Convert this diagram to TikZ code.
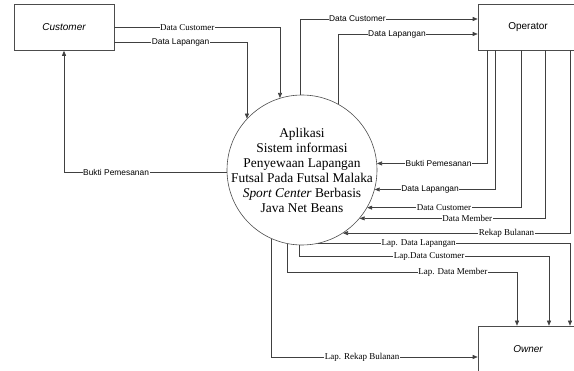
\documentclass[tikz,border=0pt]{standalone}
\usepackage{fontspec}
\setmainfont{Liberation Serif}
\setsansfont{Liberation Sans}
\usetikzlibrary{arrows.meta}
\begin{document}
\begin{tikzpicture}[x=1pt,y=-1pt,
    ent/.style={draw=black!70,line width=0.6pt,minimum width=100pt,minimum height=46pt,font=\sffamily\fontsize{10}{12}\selectfont},
    proc/.style={draw=black!70,line width=0.6pt,circle,minimum size=150pt,inner sep=0pt},
    proctext/.style={align=center,inner sep=0pt,font=\fontsize{13.4}{15}\selectfont},
    flow/.style={draw=black!75,line width=0.6pt,-{Triangle[length=5pt,width=4pt]}},
    lbs/.style={fill=white,inner sep=0.5pt,font=\sffamily\fontsize{8.4}{10}\selectfont},
    lbr/.style={fill=white,inner sep=0.5pt,font=\fontsize{9}{10}\selectfont}]
        \useasboundingbox (0,0) rectangle (574,371);
        \node[ent] (cust) at (64,27.5) {\itshape Customer};
        \node[ent] (opr) at (528,27) {Operator};
        \node[ent] (own) at (528,349) {\itshape Owner};
        \node[proc,label={[proctext]center:{Aplikasi\\Sistem informasi\\Penyewaan Lapangan\\Futsal Pada Futsal Malaka\\\textit{Sport Center} Berbasis\\Java Net Beans}}] (sys) at (302,170) {};
        % customer
        \draw[flow] (cust.east) -| node[lbr,pos=.22]{Data Customer} (sys.107);
        \draw[flow] ([yshift=-15pt]cust.east) -| node[lbs,pos=.25]{Data Lapangan} (sys.137);
        \draw[flow] (sys.182) -| node[lbs,pos=.34]{Bukti Pemesanan} (cust.south);
        % operator
        \draw[flow] (sys.91) |- node[lbs,pos=.66]{Data Customer} ([yshift=8pt]opr.west);
        \draw[flow] (sys.61) |- node[lbs,pos=.71]{Data Lapangan} ([yshift=-7pt]opr.west);
        \foreach \dx/\ang/\p/\st/\txt in {-41/5/.72/lbs/Bukti Pemesanan,-33/-15/.77/lbs/Data Lapangan,-7/-30/.75/lbr/Data Customer,17/-40/.71/lbr/Data Member,42/-57/.64/lbr/Rekap Bulanan} {
            \draw[flow] ([xshift=\dx pt]opr.south) |- node[\st,pos=\p]{\txt} (sys.\ang);
        }
        % owner
        \draw[flow] (sys.-78) -| node[lbr,pos=.2]{Lap. Data Lapangan} ([xshift=42pt]own.north);
        \draw[flow] (sys.268) |- node[lbr,pos=.76]{Lap.Data Customer} ([xshift=21pt,yshift=69pt]own.north) -- ([xshift=21pt]own.north);
        \draw[flow] (sys.259) |- node[lbr,pos=.86]{Lap. Data Member} ([xshift=-11pt,yshift=53pt]own.north) -- ([xshift=-11pt]own.north);
        \draw[flow] (sys.246) |- node[lbr,pos=.72]{Lap. Rekap Bulanan} ([yshift=-8pt]own.west);
    \end{tikzpicture}
\end{document}
